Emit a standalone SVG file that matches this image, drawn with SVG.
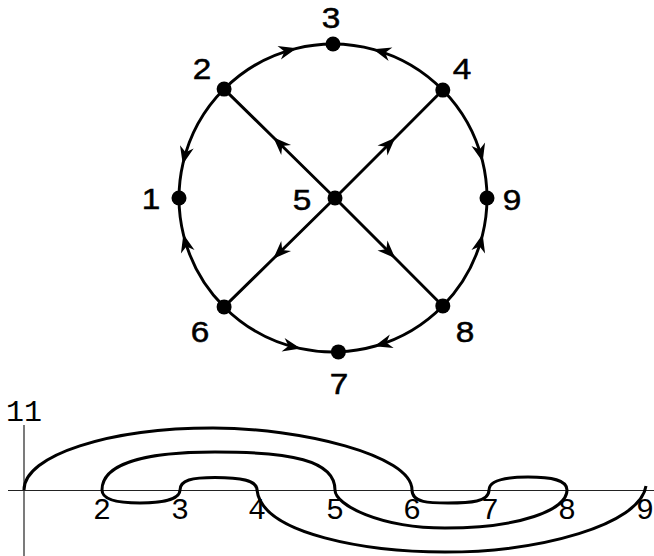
<svg xmlns="http://www.w3.org/2000/svg" width="654" height="556" viewBox="0 0 654 556">
<style>
.edge{fill:none;stroke:#000;stroke-width:2.9;marker-mid:url(#arr)}
.dot{fill:#000}
.lbl{font-family:"Liberation Sans",Arial,Helvetica,sans-serif;font-size:29px;text-anchor:middle;fill:#000;stroke:#000;stroke-width:0.5}
.axis{fill:none;stroke:#222;stroke-width:1.2}
.curve{fill:none;stroke:#000;stroke-width:3;stroke-linejoin:round}
.tick{font-family:"Liberation Mono","Courier New",monospace;font-size:30px;text-anchor:middle;fill:#000}
</style>
<defs>
<marker id="arr" markerUnits="userSpaceOnUse" viewBox="-20 -9 22 18" markerWidth="22" markerHeight="18" refX="0" refY="0" orient="auto" overflow="visible">
<path d="M1,0 L-17,-7 L-11.5,0 L-17,7 Z" fill="#000"/>
</marker>
</defs>
<rect width="654" height="556" fill="#fff"/>
<g id="connectors">
<path class="edge" d="M335,198 L274,138 L224.1,89.1"/>
<path class="edge" d="M335,198 L394.5,138.5 L442.8,90.1"/>
<path class="edge" d="M335,198 L274,258 L224.1,306.9"/>
<path class="edge" d="M335,198 L394.5,257.5 L442.8,305.9"/>
<path class="edge" d="M224.1,89.1 A154,154 0 0 1 295.7,48.6 A154,154 0 0 1 333,44"/>
<path class="edge" d="M442.8,90.1 A154,154 0 0 0 374.1,49.6 A154,154 0 0 0 333,44"/>
<path class="edge" d="M224.1,89.1 A154,154 0 0 0 183,163.4 A154,154 0 0 0 179,198"/>
<path class="edge" d="M442.8,90.1 A154,154 0 0 1 482.4,160.7 A154,154 0 0 1 487,198"/>
<path class="edge" d="M224.1,306.9 A154,154 0 0 1 183.6,235.3 A154,154 0 0 1 179,198"/>
<path class="edge" d="M442.8,305.9 A154,154 0 0 0 482.4,235.3 A154,154 0 0 0 487,198"/>
<path class="edge" d="M224.1,306.9 A154,154 0 0 0 299.7,348.4 A154,154 0 0 0 338.4,351.9"/>
<path class="edge" d="M442.8,305.9 A154,154 0 0 1 375.4,346 A154,154 0 0 1 338.4,351.9"/>
</g>
<g id="node1"><circle class="dot" cx="179" cy="198" r="7.5"/><text class="lbl" transform="translate(151,209) scale(1.15,1)">1</text></g>
<g id="node2"><circle class="dot" cx="224.1" cy="89.1" r="7.5"/><text class="lbl" transform="translate(202,78.5) scale(1.15,1)">2</text></g>
<g id="node3"><circle class="dot" cx="333" cy="44" r="7.5"/><text class="lbl" transform="translate(331,28) scale(1.15,1)">3</text></g>
<g id="node4"><circle class="dot" cx="442.8" cy="90.1" r="7.5"/><text class="lbl" transform="translate(462,79) scale(1.15,1)">4</text></g>
<g id="node5"><circle class="dot" cx="335" cy="198" r="7.5"/><text class="lbl" transform="translate(302,209.5) scale(1.15,1)">5</text></g>
<g id="node6"><circle class="dot" cx="224.1" cy="306.9" r="7.5"/><text class="lbl" transform="translate(200,342) scale(1.15,1)">6</text></g>
<g id="node7"><circle class="dot" cx="338.4" cy="351.9" r="7.5"/><text class="lbl" transform="translate(339,393.5) scale(1.15,1)">7</text></g>
<g id="node8"><circle class="dot" cx="442.8" cy="305.9" r="7.5"/><text class="lbl" transform="translate(465,342) scale(1.15,1)">8</text></g>
<g id="node9"><circle class="dot" cx="487" cy="198" r="7.5"/><text class="lbl" transform="translate(512,209.5) scale(1.15,1)">9</text></g>
<g id="plot">
<line class="axis" x1="8" y1="490.5" x2="654" y2="490.5"/>
<line class="axis" x1="24" y1="425" x2="24" y2="556"/>
<path class="curve" d="M24,490 C24,455 110,428 213,428 C300,428 412,455 412,490 C412,503 430,503 448,503 C470,503 489,502 489,490 C489,480 505,477 528,477 C552,477 567,480 567,490 C567,510 520,528 445,528 C380,528 335,505 335,490 C335,460 290,452 215,452 C150,452 102,462 102,490 C102,500 120,503 140,503 C160,503 180,500 180,490 C180,480 192,477.5 215,477.5 C240,477.5 257,480 257,490 C262,535 370,552 445,552 C540,552 640,525 646,486"/>
<text class="tick" x="24" y="421">11</text>
<text class="tick" x="102" y="519">2</text>
<text class="tick" x="180" y="519">3</text>
<text class="tick" x="257" y="519">4</text>
<text class="tick" x="335" y="519">5</text>
<text class="tick" x="412" y="519">6</text>
<text class="tick" x="490" y="519">7</text>
<text class="tick" x="567" y="519">8</text>
<text class="tick" x="645" y="519">9</text>
</g>
</svg>
